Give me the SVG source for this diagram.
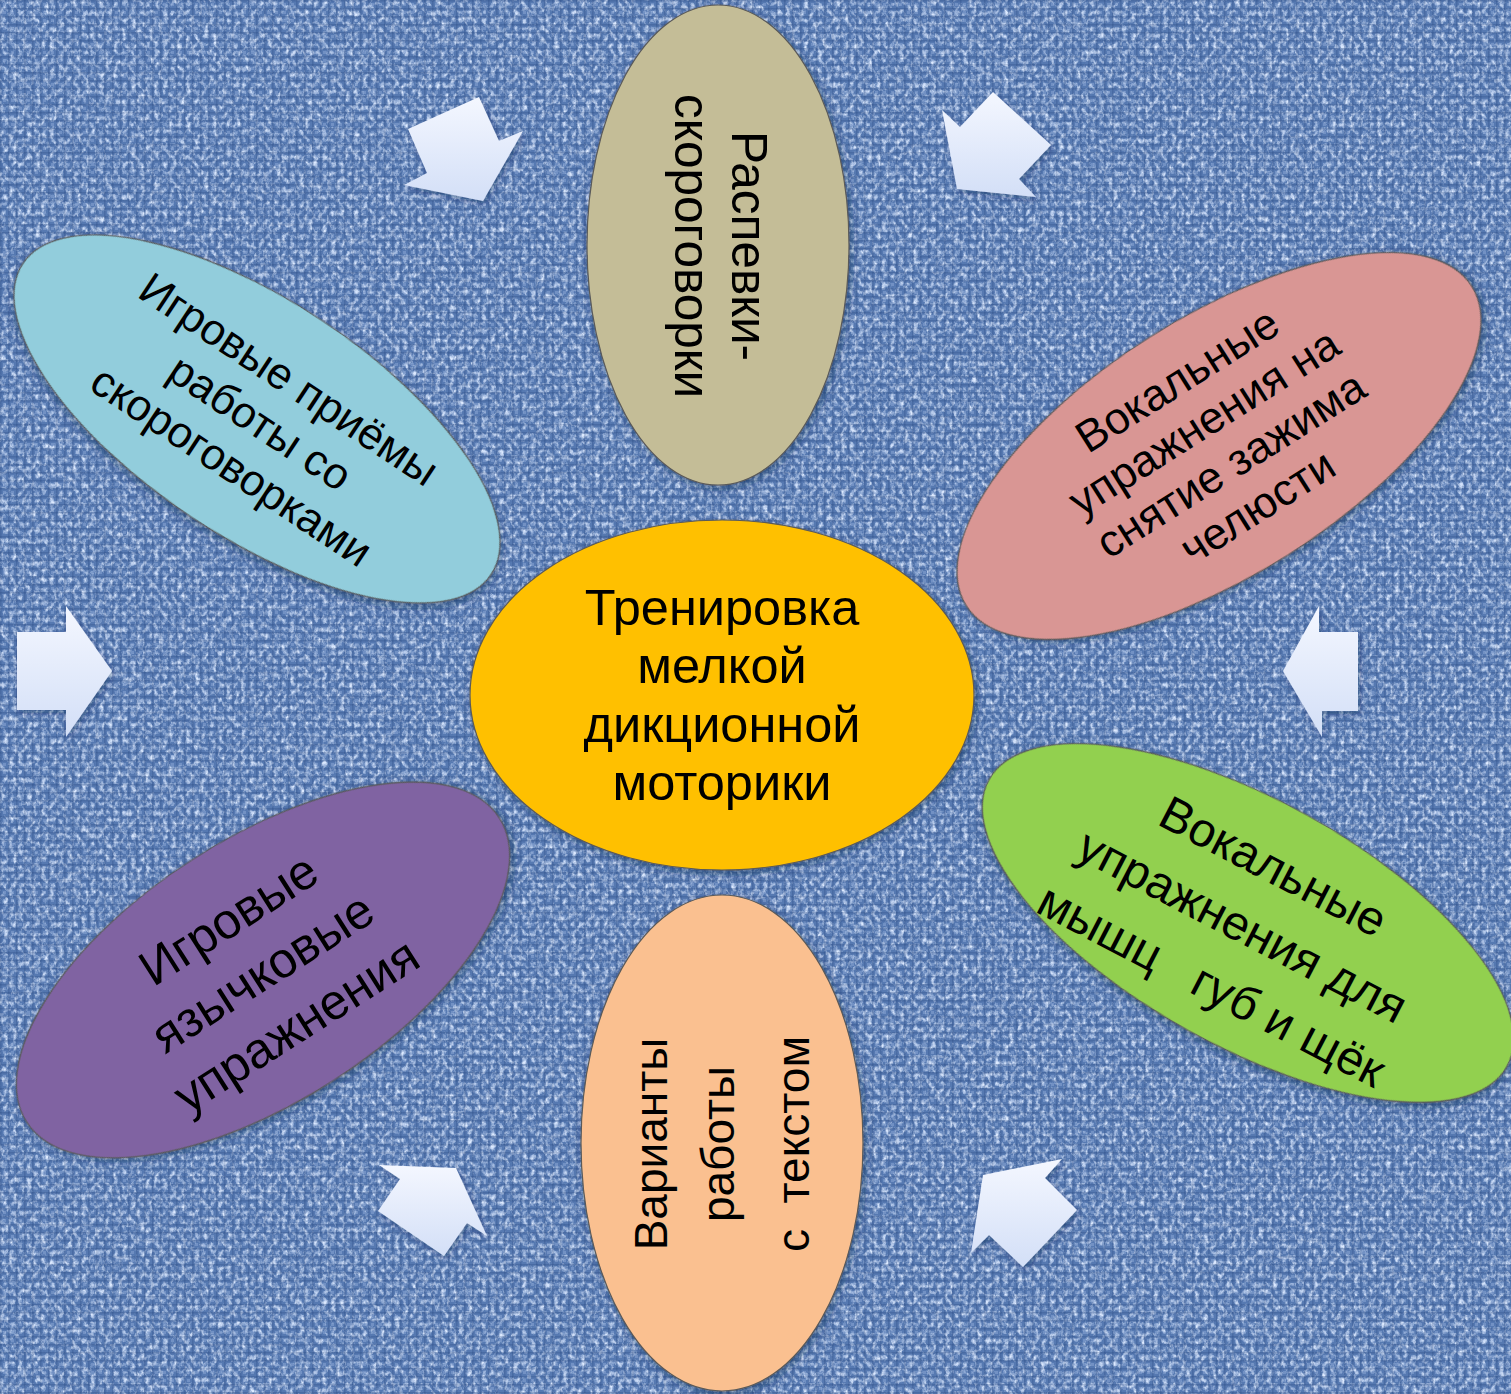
<svg xmlns="http://www.w3.org/2000/svg" width="1511" height="1394" viewBox="0 0 1511 1394">
<style>
.lbl{font-family:"Liberation Sans",Arial,"Noto Sans",sans-serif;fill:#000;text-anchor:middle}
.node{stroke:#5a5a5a;stroke-width:1.2;filter:url(#sh)}
.arr{fill:url(#ag);filter:url(#ash)}
</style>
<defs>
<filter id="tex" x="0" y="0" width="1511" height="1394" filterUnits="userSpaceOnUse">
<feTurbulence type="fractalNoise" baseFrequency="0.22 0.18" numOctaves="3" seed="7" result="n"/>
<feColorMatrix in="n" type="matrix" values="0 0 0 0 0.72  0 0 0 0 0.82  0 0 0 0 1  2.6 0 0 0 -1.15" result="lt"/>
<feColorMatrix in="n" type="matrix" values="0 0 0 0 0.07  0 0 0 0 0.16  0 0 0 0 0.40  0 -2.6 0 0 0.95" result="dk"/>
<feMerge><feMergeNode in="dk"/><feMergeNode in="lt"/></feMerge>
</filter>
<pattern id="weave" width="8" height="8" patternUnits="userSpaceOnUse">
<rect x="0" y="0" width="8" height="1.6" fill="#1d3c72" opacity="0.22"/>
<rect x="0" y="0" width="1.6" height="8" fill="#1d3c72" opacity="0.22"/>
<rect x="3" y="3" width="3" height="3" fill="#b9d0f4" opacity="0.28"/>
</pattern>
<linearGradient id="ag" x1="0" y1="0" x2="0" y2="1">
<stop offset="0" stop-color="#f4f7ff"/>
<stop offset="1" stop-color="#d3dff7"/>
</linearGradient>
<filter id="sh" x="-10%" y="-10%" width="120%" height="120%">
<feDropShadow dx="2" dy="3" stdDeviation="4" flood-color="#102040" flood-opacity="0.45"/>
</filter>
<filter id="ash" x="-20%" y="-20%" width="140%" height="140%">
<feDropShadow dx="2" dy="3" stdDeviation="3" flood-color="#102040" flood-opacity="0.35"/>
</filter>
</defs>

<g id="background">
<rect width="1511" height="1394" fill="#5679b1"/>
<rect width="1511" height="1394" filter="url(#tex)"/>
<rect width="1511" height="1394" fill="url(#weave)"/>
</g>

<g id="connectors">
<polygon class="arr" points="408,129 479,97 499,141 523,131 483,201 404,185 427,173"/>
<polygon class="arr" points="942,110 960,127 993,92 1051,145 1019,179 1036,197 957,189"/>
<polygon class="arr" points="17,632 66,632 66,606 112,671 66,737 66,710 17,710"/>
<polygon class="arr" points="1319,606 1283,671 1322,737 1322,711 1358,711 1358,632 1319,632"/>
<polygon class="arr" points="1062,1159 1045,1178 1077,1210 1023,1267 989,1235 971,1253 983,1175"/>
<polygon class="arr" points="379,1165 456,1168 487,1236 467,1223 444,1256 378,1211 400,1179"/>
</g>

<g id="node-top">
<ellipse class="node" cx="718" cy="245" rx="131" ry="240" fill="#c4bd97"/>
<text class="lbl" font-size="49.5" transform="translate(718,246) rotate(90)"><tspan x="0" y="-14">Распевки-</tspan><tspan x="0" y="43">скороговорки</tspan></text>
</g>

<g id="node-topleft">
<ellipse class="node" cx="257" cy="419" rx="281" ry="118" fill="#92cddc" transform="rotate(33.6 257 419)"/>
<text class="lbl" font-size="44" transform="translate(258,426) rotate(33.5)"><tspan x="0" y="-41">Игровые приёмы</tspan><tspan x="0" y="11">работы со</tspan><tspan x="0" y="63">скороговорками</tspan></text>
</g>

<g id="node-topright">
<ellipse class="node" cx="1219" cy="446" rx="299" ry="129" fill="#d99694" transform="rotate(-32.3 1219 446)"/>
<text class="lbl" font-size="44.5" transform="translate(1219,446) rotate(-32.3)"><tspan x="0" y="-63">Вокальные</tspan><tspan x="0" y="-13">упражнения на</tspan><tspan x="0" y="37">снятие зажима</tspan><tspan x="0" y="87">челюсти</tspan></text>
</g>

<g id="node-center">
<ellipse class="node" cx="722" cy="695" rx="252" ry="175" fill="#ffc000"/>
<text class="lbl" font-size="50.5"><tspan x="722" y="625">Тренировка</tspan><tspan x="722" y="683">мелкой</tspan><tspan x="722" y="742">дикционной</tspan><tspan x="722" y="800">моторики</tspan></text>
</g>

<g id="node-bottomright">
<ellipse class="node" cx="1248" cy="923" rx="296" ry="123" fill="#92d050" transform="rotate(29 1248 923)"/>
<text class="lbl" font-size="48" xml:space="preserve" transform="translate(1241,929) rotate(27.5)"><tspan x="0" y="-54">Вокальные</tspan><tspan x="0" y="13">упражнения для</tspan><tspan x="0" y="80">мышц   губ и щёк</tspan></text>
</g>

<g id="node-bottomleft">
<ellipse class="node" cx="263" cy="970" rx="281" ry="131" fill="#8064a2" transform="rotate(-32.8 263 970)"/>
<text class="lbl" font-size="50" transform="translate(264,975) rotate(-32.5)"><tspan x="0" y="-49">Игровые</tspan><tspan x="0" y="14">язычковые</tspan><tspan x="0" y="77">упражнения</tspan></text>
</g>

<g id="node-bottom">
<ellipse class="node" cx="722" cy="1143" rx="141" ry="248" fill="#fac090"/>
<text class="lbl" font-size="46" xml:space="preserve" transform="translate(722,1144) rotate(-90)"><tspan x="0" y="-55">Варианты</tspan><tspan x="0" y="12">работы</tspan><tspan x="0" y="87">с  текстом</tspan></text>
</g>
</svg>
